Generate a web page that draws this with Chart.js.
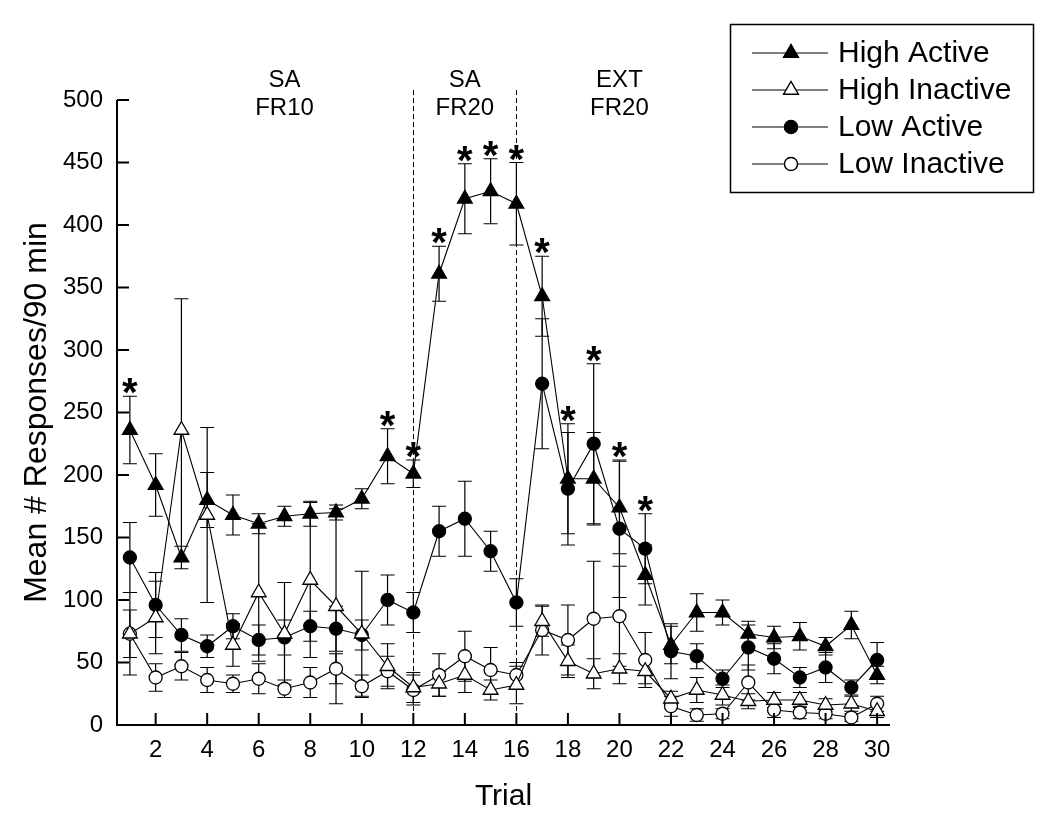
<!DOCTYPE html>
<html>
<head>
<meta charset="utf-8">
<script src="https://cdn.jsdelivr.net/npm/chart.js@4"></script>
<style>
  html, body { margin: 0; padding: 0; background: #fff; }
  #chart { display: block; }
</style>
</head>
<body>
<canvas id="chart" width="1050" height="825"></canvas>
<script>
(function() {
  'use strict';
  // trials
  const trials = [1, 2, 3, 4, 5, 6, 7, 8, 9, 10, 11, 12, 13, 14, 15, 16, 17, 18, 19, 20, 21, 22, 23, 24, 25, 26, 27, 28, 29, 30];
  const xTickValues = [2, 4, 6, 8, 10, 12, 14, 16, 18, 20, 22, 24, 26, 28, 30];
  const yTickValues = [0, 50, 100, 150, 200, 250, 300, 350, 400, 450, 500];

  // High Active
  const highActive = [236, 192, 134, 180, 168, 161, 167, 169, 170, 181, 215, 201, 361, 421, 427, 417, 343, 197, 197, 174, 120, 64, 90, 90, 73, 70, 71, 63, 80, 40];
  const highActiveErr = [27, 25, 9, 22, 16, 8, 8, 10, 6, 8, 22, 11, 22, 28, 26, 33, 32, 44, 37, 37, 24, 15, 15, 10, 10, 9, 11, 7, 11, 7];
  // High Inactive
  const highInactive = [73, 86, 236, 168, 64, 106, 73, 116, 95, 73, 47, 30, 33, 40, 28, 32, 83, 51, 41, 45, 43, 21, 28, 24, 19, 20, 20, 16, 17, 11];
  const highInactiveErr = [33, 29, 105, 70, 17, 55, 41, 62, 78, 50, 18, 12, 10, 14, 8, 15, 12, 13, 12, 12, 10, 6, 10, 8, 6, 6, 6, 5, 6, 5];
  // Low Active
  const lowActive = [134, 96, 72, 63, 79, 68, 70, 79, 77, 72, 100, 90, 155, 165, 139, 98, 273, 189, 225, 157, 141, 59, 55, 37, 62, 53, 38, 46, 30, 52];
  const lowActiveErr = [28, 26, 13, 9, 10, 12, 14, 12, 18, 12, 20, 16, 20, 30, 16, 19, 52, 45, 64, 55, 28, 22, 10, 7, 18, 12, 8, 12, 6, 14];
  // Low Inactive
  const lowInactive = [73, 38, 47, 36, 33, 37, 29, 34, 45, 31, 43, 28, 40, 55, 44, 40, 76, 68, 85, 87, 52, 15, 8, 9, 34, 12, 10, 9, 6, 17];
  const lowInactiveErr = [19, 11, 11, 10, 7, 12, 7, 12, 12, 9, 12, 12, 17, 20, 18, 10, 20, 28, 46, 40, 22, 8, 5, 4, 14, 6, 5, 4, 3, 6];

  // 有意差 (*) のある試行
  const starTrials = [1, 11, 12, 13, 14, 15, 16, 17, 18, 19, 20, 21];
  // フェーズ区切り
  const phaseLines = [12, 16];
  const phaseCenters = [7, 14, 20];
  const phaseLabels = [['SA', 'FR10'], ['SA', 'FR20'], ['EXT', 'FR20']];

  const FONT = '"Liberation Sans", Arial, Helvetica, sans-serif';

  function toPoints(values) {
    return trials.map((t, i) => ({ x: t, y: values[i] }));
  }

  function makeSet(label, values, errs, style, filled, radius) {
    return {
      label: label,
      data: toPoints(values),
      errors: errs,
      borderColor: '#000',
      borderWidth: 1.1,
      backgroundColor: filled ? '#000' : '#fff',
      pointStyle: style,
      pointRadius: radius,
      pointHoverRadius: radius,
      pointBorderWidth: 1.3,
      pointBorderColor: '#000',
      pointBackgroundColor: filled ? '#000' : '#fff',
      fill: false,
      tension: 0,
      clip: false,
    };
  }

  const datasets = [
    makeSet('High Active', highActive, highActiveErr, 'triangle', true, 8.5),
    makeSet('High Inactive', highInactive, highInactiveErr, 'triangle', false, 8.5),
    makeSet('Low Active', lowActive, lowActiveErr, 'circle', true, 6.5),
    makeSet('Low Inactive', lowInactive, lowInactiveErr, 'circle', false, 6.5),
  ];

  const extras = {
    id: 'extras',
    beforeDatasetsDraw(chart) {
      const ctx = chart.ctx;
      const xs = chart.scales.x;
      const ys = chart.scales.y;
      const area = chart.chartArea;
      ctx.save();
      // 破線
      ctx.strokeStyle = '#000';
      ctx.lineWidth = 1;
      ctx.setLineDash([5, 3]);
      phaseLines.forEach(function(t) {
        const px = Math.round(xs.getPixelForValue(t)) + 0.5;
        ctx.beginPath();
        ctx.moveTo(px, area.top - 10);
        ctx.lineTo(px, area.bottom);
        ctx.stroke();
      });
      ctx.setLineDash([]);
      // エラーバー
      ctx.lineWidth = 1.2;
      chart.data.datasets.forEach(function(ds) {
        ds.data.forEach(function(p, i) {
          const e = ds.errors[i];
          const px = xs.getPixelForValue(p.x);
          const top = ys.getPixelForValue(p.y + e);
          const bot = ys.getPixelForValue(Math.max(0, p.y - e));
          ctx.beginPath();
          ctx.moveTo(px, top);
          ctx.lineTo(px, bot);
          ctx.moveTo(px - 7, top);
          ctx.lineTo(px + 7, top);
          ctx.moveTo(px - 7, bot);
          ctx.lineTo(px + 7, bot);
          ctx.stroke();
        });
      });
      ctx.restore();
    },
    afterDatasetsDraw(chart) {
      const ctx = chart.ctx;
      const xs = chart.scales.x;
      const ys = chart.scales.y;
      const area = chart.chartArea;
      ctx.save();
      // 軸の内向き目盛
      ctx.strokeStyle = '#000';
      ctx.lineWidth = 2;
      ctx.beginPath();
      xTickValues.forEach(function(v) {
        const px = xs.getPixelForValue(v);
        ctx.moveTo(px, area.bottom);
        ctx.lineTo(px, area.bottom - 12);
      });
      yTickValues.forEach(function(v) {
        const py = ys.getPixelForValue(v);
        ctx.moveTo(area.left, py);
        ctx.lineTo(area.left + 12, py);
      });
      ctx.stroke();
      // 軸線
      ctx.beginPath();
      ctx.moveTo(area.left, area.top);
      ctx.lineTo(area.left, area.bottom);
      ctx.lineTo(area.right, area.bottom);
      ctx.stroke();

      // アスタリスク
      ctx.fillStyle = '#000';
      ctx.font = 'bold 40px ' + FONT;
      ctx.textAlign = 'center';
      ctx.textBaseline = 'alphabetic';
      starTrials.forEach(function(t) {
        const i = trials.indexOf(t);
        let topVal = 0;
        chart.data.datasets.forEach(function(ds) {
          topVal = Math.max(topVal, ds.data[i].y + ds.errors[i]);
        });
        const px = xs.getPixelForValue(t);
        const py = ys.getPixelForValue(topVal);
        ctx.fillText('*', px, py + 10);
      });

      // フェーズ名
      ctx.font = '24px ' + FONT;
      ctx.textBaseline = 'middle';
      phaseLabels.forEach(function(lines, k) {
        const px = xs.getPixelForValue(phaseCenters[k]);
        ctx.fillText(lines[0], px, area.top - 20);
        ctx.fillText(lines[1], px, area.top + 8);
      });

      // 凡例
      const bx = 730, by = 24, bw = 303, bh = 168;
      ctx.lineWidth = 1.5;
      ctx.strokeRect(bx + 0.5, by + 0.5, bw, bh);
      ctx.font = '30px ' + FONT;
      ctx.textAlign = 'left';
      chart.data.datasets.forEach(function(ds, k) {
        const ry = 53 + k * 37;
        ctx.lineWidth = 1.1;
        ctx.beginPath();
        ctx.moveTo(752, ry);
        ctx.lineTo(828, ry);
        ctx.stroke();
        Chart.helpers.drawPoint(ctx, {
          pointStyle: ds.pointStyle,
          radius: ds.pointRadius,
          borderWidth: 1.3,
          rotation: 0,
        }, 791, ry);
        ctx.fillStyle = ds.pointBackgroundColor;
        ctx.strokeStyle = '#000';
        ctx.lineWidth = 1.3;
        ctx.fill();
        ctx.stroke();
        ctx.fillStyle = '#000';
        ctx.fillText(ds.label, 838, ry + 1);
      });
      ctx.restore();
    },
  };

  new Chart(document.getElementById('chart').getContext('2d'), {
    type: 'line',
    data: { datasets: datasets },
    options: {
      responsive: false,
      animation: false,
      events: [],
      layout: { padding: { top: 100, right: 160, left: 0, bottom: 0 } },
      plugins: {
        legend: { display: false },
        tooltip: { enabled: false },
      },
      scales: {
        x: {
          type: 'linear',
          min: 0.5,
          max: 30.5,
          afterBuildTicks: function(scale) {
            scale.ticks = xTickValues.map(v => ({ value: v }));
          },
          afterFit: function(scale) { scale.height = 100; },
          grid: { display: false, drawTicks: false },
          border: { display: false },
          ticks: { color: '#000', font: { family: FONT, size: 24 }, padding: 11, maxRotation: 0, autoSkip: false },
          title: { display: true, text: 'Trial', color: '#000', font: { family: FONT, size: 30 }, padding: { top: 0, bottom: 10 } },
        },
        y: {
          min: 0,
          max: 500,
          afterBuildTicks: function(scale) {
            scale.ticks = yTickValues.map(v => ({ value: v }));
          },
          afterFit: function(scale) { scale.width = 117; },
          grid: { display: false, drawTicks: false },
          border: { display: false },
          ticks: { color: '#000', font: { family: FONT, size: 24 }, padding: 14 },
          title: { display: true, text: 'Mean # Responses/90 min', color: '#000', font: { family: FONT, size: 32 }, padding: { top: 18, bottom: 0 } },
        },
      },
    },
    plugins: [extras],
  });
})();
</script>
</body>
</html>
